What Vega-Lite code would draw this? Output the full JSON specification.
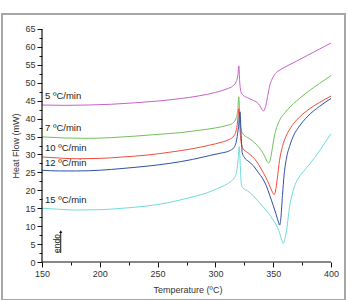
{
  "$schema": "https://vega.github.io/schema/vega-lite/v6.json",
  "width": 343,
  "height": 286,
  "autosize": "none",
  "padding": {"left": 2, "top": 14, "right": 6, "bottom": 0},
  "background": "white",
  "config": {
    "view": {"stroke": "#a6a6a6", "strokeWidth": 2},
    "font": "Liberation Sans",
    "axis": {"grid": false, "labelFont": "Liberation Sans", "titleFont": "Liberation Sans", "labelColor": "#333", "titleColor": "#333", "titleFontWeight": "normal", "tickColor": "#111", "tickWidth": 1}
  },
  "datasets": {
    "curves": [
      {"s":"5","T":150,"HF":43.8},{"s":"5","T":170,"HF":43.7},{"s":"5","T":190,"HF":43.8},{"s":"5","T":210,"HF":44.0},{"s":"5","T":230,"HF":44.4},{"s":"5","T":250,"HF":44.9},{"s":"5","T":270,"HF":45.6},{"s":"5","T":285,"HF":46.3},{"s":"5","T":300,"HF":47.3},{"s":"5","T":310,"HF":48.3},{"s":"5","T":315,"HF":49.1},{"s":"5","T":318,"HF":50.3},{"s":"5","T":319.5,"HF":52.3},{"s":"5","T":320.3,"HF":54.7},{"s":"5","T":321,"HF":50.5},{"s":"5","T":322,"HF":47.6},{"s":"5","T":324,"HF":46.5},{"s":"5","T":328,"HF":45.8},{"s":"5","T":332,"HF":45.2},{"s":"5","T":336,"HF":44.5},{"s":"5","T":338.5,"HF":43.6},{"s":"5","T":340.3,"HF":42.5},{"s":"5","T":341.5,"HF":42.1},{"s":"5","T":342.7,"HF":42.7},{"s":"5","T":344,"HF":44.2},{"s":"5","T":345.5,"HF":46.8},{"s":"5","T":347,"HF":49.2},{"s":"5","T":349,"HF":51.0},{"s":"5","T":352,"HF":52.6},{"s":"5","T":356,"HF":53.6},{"s":"5","T":362,"HF":54.7},{"s":"5","T":370,"HF":56.0},{"s":"5","T":380,"HF":57.7},{"s":"5","T":390,"HF":59.4},{"s":"5","T":400,"HF":61.1},
      {"s":"7","T":150,"HF":34.9},{"s":"7","T":170,"HF":34.6},{"s":"7","T":190,"HF":34.5},{"s":"7","T":210,"HF":34.7},{"s":"7","T":230,"HF":35.1},{"s":"7","T":250,"HF":35.6},{"s":"7","T":270,"HF":36.1},{"s":"7","T":285,"HF":36.7},{"s":"7","T":300,"HF":37.4},{"s":"7","T":310,"HF":38.1},{"s":"7","T":315,"HF":38.7},{"s":"7","T":318,"HF":40.2},{"s":"7","T":319.5,"HF":42.8},{"s":"7","T":320.2,"HF":46.1},{"s":"7","T":321,"HF":41.5},{"s":"7","T":322,"HF":37.2},{"s":"7","T":324,"HF":35.7},{"s":"7","T":328,"HF":34.7},{"s":"7","T":332,"HF":33.8},{"s":"7","T":336,"HF":32.6},{"s":"7","T":340,"HF":31.0},{"s":"7","T":342.5,"HF":29.6},{"s":"7","T":344.5,"HF":28.2},{"s":"7","T":346,"HF":27.6},{"s":"7","T":347.3,"HF":28.3},{"s":"7","T":348.5,"HF":30.2},{"s":"7","T":350,"HF":33.2},{"s":"7","T":351.5,"HF":35.8},{"s":"7","T":353.5,"HF":38.0},{"s":"7","T":356,"HF":39.8},{"s":"7","T":360,"HF":41.6},{"s":"7","T":365,"HF":43.4},{"s":"7","T":370,"HF":44.9},{"s":"7","T":380,"HF":47.5},{"s":"7","T":390,"HF":49.8},{"s":"7","T":400,"HF":52.0},
      {"s":"10","T":150,"HF":29.3},{"s":"10","T":165,"HF":29.0},{"s":"10","T":180,"HF":28.8},{"s":"10","T":200,"HF":28.9},{"s":"10","T":220,"HF":29.3},{"s":"10","T":240,"HF":29.8},{"s":"10","T":260,"HF":30.6},{"s":"10","T":280,"HF":31.6},{"s":"10","T":295,"HF":32.6},{"s":"10","T":305,"HF":33.4},{"s":"10","T":312,"HF":34.2},{"s":"10","T":316,"HF":35.2},{"s":"10","T":318.5,"HF":37.5},{"s":"10","T":319.6,"HF":40.5},{"s":"10","T":320.2,"HF":42.8},{"s":"10","T":321,"HF":38.5},{"s":"10","T":322,"HF":34.0},{"s":"10","T":324,"HF":31.6},{"s":"10","T":328,"HF":30.5},{"s":"10","T":332,"HF":29.4},{"s":"10","T":336,"HF":27.9},{"s":"10","T":339,"HF":26.3},{"s":"10","T":342,"HF":24.6},{"s":"10","T":345,"HF":22.7},{"s":"10","T":347.5,"HF":20.8},{"s":"10","T":349.5,"HF":19.4},{"s":"10","T":350.8,"HF":18.8},{"s":"10","T":352,"HF":19.8},{"s":"10","T":353.5,"HF":23.2},{"s":"10","T":355.5,"HF":28.4},{"s":"10","T":358,"HF":32.2},{"s":"10","T":361,"HF":35.0},{"s":"10","T":365,"HF":37.4},{"s":"10","T":370,"HF":39.5},{"s":"10","T":380,"HF":42.4},{"s":"10","T":390,"HF":44.5},{"s":"10","T":400,"HF":46.3},
      {"s":"12","T":150,"HF":25.6},{"s":"12","T":165,"HF":25.4},{"s":"12","T":180,"HF":25.4},{"s":"12","T":200,"HF":25.6},{"s":"12","T":220,"HF":26.1},{"s":"12","T":240,"HF":26.7},{"s":"12","T":260,"HF":27.5},{"s":"12","T":280,"HF":28.6},{"s":"12","T":295,"HF":29.7},{"s":"12","T":305,"HF":30.4},{"s":"12","T":312,"HF":31.0},{"s":"12","T":316,"HF":31.9},{"s":"12","T":318.5,"HF":34.3},{"s":"12","T":320,"HF":37.8},{"s":"12","T":321.3,"HF":41.9},{"s":"12","T":322.2,"HF":36.0},{"s":"12","T":323.2,"HF":30.5},{"s":"12","T":325,"HF":29.2},{"s":"12","T":329,"HF":28.0},{"s":"12","T":333,"HF":26.8},{"s":"12","T":337,"HF":25.0},{"s":"12","T":341,"HF":23.2},{"s":"12","T":344,"HF":21.3},{"s":"12","T":347,"HF":18.6},{"s":"12","T":350,"HF":15.8},{"s":"12","T":352.5,"HF":13.3},{"s":"12","T":354.5,"HF":11.2},{"s":"12","T":355.6,"HF":10.3},{"s":"12","T":356.7,"HF":12.5},{"s":"12","T":358,"HF":18.5},{"s":"12","T":359.5,"HF":24.5},{"s":"12","T":361.5,"HF":29.0},{"s":"12","T":364.5,"HF":32.6},{"s":"12","T":368,"HF":35.5},{"s":"12","T":372,"HF":37.6},{"s":"12","T":380,"HF":40.7},{"s":"12","T":390,"HF":43.4},{"s":"12","T":400,"HF":45.6},
      {"s":"15","T":150,"HF":15.0},{"s":"15","T":165,"HF":14.7},{"s":"15","T":180,"HF":14.5},{"s":"15","T":200,"HF":14.6},{"s":"15","T":220,"HF":15.0},{"s":"15","T":240,"HF":15.6},{"s":"15","T":260,"HF":16.6},{"s":"15","T":278,"HF":18.0},{"s":"15","T":292,"HF":19.2},{"s":"15","T":301,"HF":20.4},{"s":"15","T":308,"HF":21.4},{"s":"15","T":313,"HF":22.4},{"s":"15","T":316.5,"HF":23.6},{"s":"15","T":318.5,"HF":25.5},{"s":"15","T":319.8,"HF":29.0},{"s":"15","T":320.6,"HF":32.2},{"s":"15","T":321.5,"HF":27.0},{"s":"15","T":322.5,"HF":21.5},{"s":"15","T":324,"HF":20.6},{"s":"15","T":328,"HF":19.8},{"s":"15","T":333,"HF":18.4},{"s":"15","T":338,"HF":16.6},{"s":"15","T":342,"HF":15.1},{"s":"15","T":346,"HF":13.6},{"s":"15","T":350,"HF":11.7},{"s":"15","T":353,"HF":10.1},{"s":"15","T":355.5,"HF":8.2},{"s":"15","T":357.5,"HF":6.0},{"s":"15","T":358.8,"HF":5.2},{"s":"15","T":360,"HF":6.3},{"s":"15","T":361.6,"HF":8.9},{"s":"15","T":363,"HF":12.5},{"s":"15","T":364.5,"HF":16.0},{"s":"15","T":366.5,"HF":19.0},{"s":"15","T":369,"HF":21.6},{"s":"15","T":372,"HF":23.5},{"s":"15","T":376,"HF":25.2},{"s":"15","T":382,"HF":27.5},{"s":"15","T":390,"HF":31.0},{"s":"15","T":400,"HF":35.8}
    ],
    "labels": [
      {"lab":"5 ºC/min","T":150,"HF":46.3},
      {"lab":"7 ºC/min","T":150,"HF":37.4},
      {"lab":"10 ºC/min","T":150,"HF":31.8},
      {"lab":"12 ºC/min","T":150,"HF":27.6},
      {"lab":"15 ºC/min","T":150,"HF":17.3}
    ],
    "axes": [
      {"T":150,"T2":400,"HF":0,"HF2":0},
      {"T":150,"T2":150,"HF":0,"HF2":65}
    ],
    "endo": [{"lab":"endo","T":165.2,"HF":5.16,"Tl":166.2,"lo":2.5,"hi":8.1,"tip":8.45}]
  },
  "resolve": {"axis": {"x": "independent", "y": "independent"}},
  "layer": [
    {
      "data": {"name": "curves"},
      "mark": {"type": "line", "strokeWidth": 1, "interpolate": "monotone"},
      "encoding": {
        "x": {"field": "T", "type": "quantitative",
          "scale": {"domain": [115.398, 412.11], "nice": false, "zero": false},
          "axis": {"values": [150, 200, 250, 300, 350, 400], "offset": -38, "domain": false, "tickSize": 5, "labelFontSize": 9, "labelPadding": 2, "title": "Temperature (ºC)", "titleFontSize": 9, "titleX": 185.5, "titleY": 27, "titleBaseline": "middle", "titleAnchor": null}},
        "y": {"field": "HF", "type": "quantitative",
          "scale": {"domain": [-10.6, 69.184], "nice": false, "zero": false},
          "axis": {"values": [0,5,10,15,20,25,30,35,40,45,50,55,60,65], "offset": -40, "domain": false, "tickSize": 5, "labelFontSize": 9, "labelPadding": 2, "title": "Heat Flow (mW)", "titleFontSize": 9, "titleX": -26.5, "titleY": 131.5, "titleBaseline": "middle", "titleAngle": -90}},
        "color": {"field": "s", "type": "nominal", "legend": null,
          "scale": {"domain": ["5","7","10","12","15"], "range": ["#c862c8","#72c05a","#f24d3a","#3050a8","#70dcdc"]}},
        "order": {"field": "T", "type": "quantitative"}
      }
    },
    {
      "data": {"name": "labels"},
      "mark": {"type": "text", "align": "left", "baseline": "middle", "dx": 3, "fontSize": 9.5, "color": "#222"},
      "encoding": {
        "x": {"field": "T", "type": "quantitative", "axis": null},
        "y": {"field": "HF", "type": "quantitative", "axis": null},
        "text": {"field": "lab"}
      }
    },
    {
      "data": {"name": "axes"},
      "mark": {"type": "rule", "color": "#111", "strokeWidth": 1.2},
      "encoding": {
        "x": {"field": "T", "type": "quantitative",
          "axis": {"values": [175, 225, 275, 325, 375], "offset": -38, "orient": "bottom", "domain": false, "labels": false, "tickSize": 3, "title": null}},
        "x2": {"field": "T2"},
        "y": {"field": "HF", "type": "quantitative",
          "axis": {"values": [2.5,7.5,12.5,17.5,22.5,27.5,32.5,37.5,42.5,47.5,52.5,57.5,62.5], "offset": -40, "orient": "left", "domain": false, "labels": false, "tickSize": 3, "title": null}},
        "y2": {"field": "HF2"}
      }
    },
    {
      "data": {"name": "endo"},
      "mark": {"type": "text", "angle": 270, "align": "center", "baseline": "alphabetic", "fontSize": 8.5, "color": "#222"},
      "encoding": {
        "x": {"field": "T", "type": "quantitative", "axis": null},
        "y": {"field": "HF", "type": "quantitative", "axis": null},
        "text": {"field": "lab"}
      }
    },
    {
      "data": {"name": "endo"},
      "mark": {"type": "rule", "color": "#111", "strokeWidth": 1},
      "encoding": {
        "x": {"field": "Tl", "type": "quantitative", "axis": null},
        "y": {"field": "lo", "type": "quantitative", "axis": null},
        "y2": {"field": "hi"}
      }
    },
    {
      "data": {"name": "endo"},
      "mark": {"type": "point", "shape": "triangle-up", "filled": true, "color": "#111", "size": 10, "opacity": 1},
      "encoding": {
        "x": {"field": "Tl", "type": "quantitative", "axis": null},
        "y": {"field": "tip", "type": "quantitative", "axis": null}
      }
    }
  ]
}
